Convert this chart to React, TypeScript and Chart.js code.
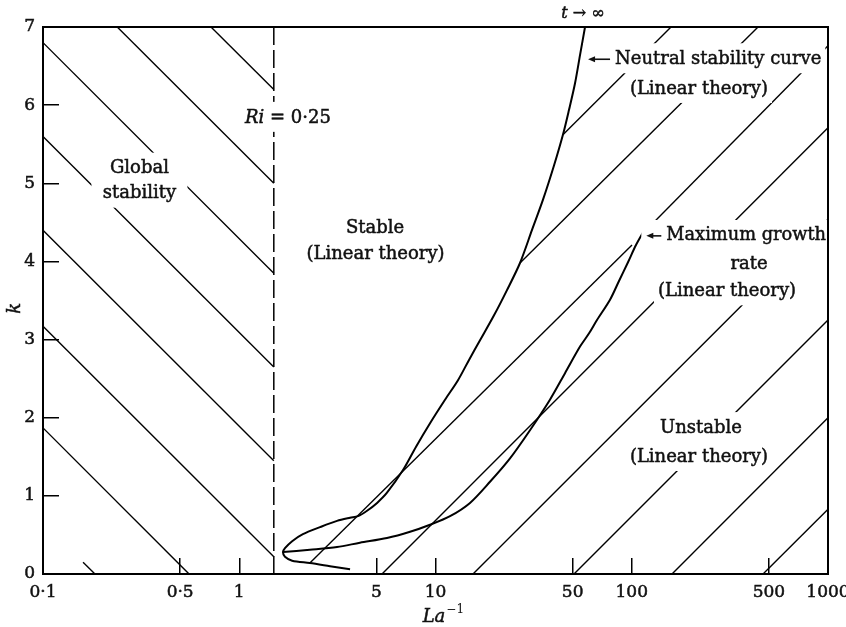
import React, { useEffect, useRef } from 'react';
import { Chart, registerables } from 'chart.js';

Chart.register(...registerables);

// ---- axis ticks ----
const X_TICKS = [0.1, 0.5, 1, 5, 10, 50, 100, 500, 1000];
const X_TICK_LABELS = ['0·1', '0·5', '1', '5', '10', '50', '100', '500', '1000'];
const Y_TICKS = [0, 1, 2, 3, 4, 5, 6, 7];
const Y_TICK_LABELS = ['0', '1', '2', '3', '4', '5', '6', '7'];

// ---- Ri = 0.25 boundary (value of La^-1) ----
const RI_LA = 1.5;

// ---- neutral stability curve (linear theory) ----
const NEUTRAL_LA = [57.8, 54.5, 51.4, 47.9, 44.6, 40.2, 35.3, 31.0, 26.95, 23.1, 19.87, 16.86, 14.82, 13.02, 11.18, 9.38, 7.96, 6.83, 5.66, 5.04, 4.48, 4.03, 3.67, 3.15, 2.58, 2.11, 1.86, 1.71, 1.67, 1.71, 1.86, 2.29, 2.9, 3.67];
const NEUTRAL_K = [7.0, 6.64, 6.28, 5.94, 5.62, 5.23, 4.79, 4.4, 3.98, 3.63, 3.31, 2.99, 2.74, 2.48, 2.23, 1.93, 1.63, 1.33, 1.04, 0.91, 0.81, 0.74, 0.72, 0.68, 0.6, 0.51, 0.42, 0.33, 0.28, 0.22, 0.17, 0.14, 0.1, 0.06];

// ---- maximum growth rate curve (linear theory) ----
const MAXGROWTH_LA = [116.8, 105.1, 95.7, 86.1, 77.5, 66.5, 60.6, 54.5, 45.7, 38.3, 30.3, 23.97, 18.95, 14.99, 11.86, 9.38, 7.42, 5.66, 4.12, 3.15, 2.29, 1.67];
const MAXGROWTH_K = [4.415, 4.21, 3.99, 3.75, 3.51, 3.25, 3.08, 2.91, 2.57, 2.23, 1.84, 1.48, 1.18, 0.91, 0.74, 0.63, 0.54, 0.46, 0.4, 0.345, 0.31, 0.28];

// ---- hatching segments [La1, k1, La2, k2] ----
const HATCH_LEFT = [
  [0.718, 7, 1.5, 6.2],
  [0.239, 7, 1.5, 5.0],
  [0.1, 6.8, 1.5, 3.85],
  [0.1, 5.6, 1.5, 2.65],
  [0.1, 4.4, 1.5, 1.45],
  [0.1, 3.17, 1.5, 0.22],
  [0.1, 1.87, 0.555, 0],
  [0.16, 0.15, 0.184, 0],
];
const HATCH_RIGHT = [
  [44.6, 5.62, 158.5, 7],
  [26.95, 3.98, 440, 7],
  [2.29, 0.14, 100.3, 4.21],
  [118.2, 4.4, 1000, 6.76],
  [5.34, 0, 1000, 5.71],
  [15.53, 0, 1000, 4.54],
  [50.8, 0, 1000, 3.25],
  [160.4, 0, 1000, 2.0],
  [466.6, 0, 1000, 0.83],
];

// ---- text annotations ----
type Part = { t: string; it?: boolean };
type Note = {
  parts: Part[];
  la: number;
  k: number;
  align: 'left' | 'center';
  boxW?: number;
  box?: boolean;
  size?: number;
  arrow?: number;
};

const FAMILY = '"DejaVu Serif", "Liberation Serif", serif';

const NOTES: Note[] = [
  { parts: [{ t: 'Global' }], la: 0.31, k: 5.2, align: 'center', boxW: 96 },
  { parts: [{ t: 'stability' }], la: 0.31, k: 4.88, align: 'center', boxW: 96 },
  { parts: [{ t: 'Ri', it: true }, { t: ' = 0·25' }], la: 1.07, k: 5.85, align: 'left' },
  { parts: [{ t: 'Stable' }], la: 4.92, k: 4.43, align: 'center' },
  { parts: [{ t: '(Linear theory)' }], la: 4.95, k: 4.11, align: 'center' },
  { parts: [{ t: 't', it: true }, { t: ' → ∞' }], la: 56.4, k: 7.18, align: 'center', box: false, size: 16 },
  { parts: [{ t: 'Neutral stability curve' }], la: 82.2, k: 6.6, align: 'left', arrow: 22 },
  { parts: [{ t: '(Linear theory)' }], la: 220, k: 6.22, align: 'center' },
  { parts: [{ t: 'Maximum growth' }], la: 150, k: 4.34, align: 'left', arrow: 15, size: 17.8 },
  { parts: [{ t: 'rate' }], la: 395.8, k: 3.98, align: 'center', boxW: 150 },
  { parts: [{ t: '(Linear theory)' }], la: 305.8, k: 3.63, align: 'center' },
  { parts: [{ t: 'Unstable' }], la: 225.4, k: 1.88, align: 'center' },
  { parts: [{ t: '(Linear theory)' }], la: 220, k: 1.51, align: 'center' },
];

const INK = '#111';

const notesPlugin = {
  id: 'notes',
  afterDatasetsDraw(chart: any) {
    const ctx = chart.ctx as CanvasRenderingContext2D;
    const xs = chart.scales.x;
    const ys = chart.scales.y;
    ctx.save();
    ctx.textBaseline = 'middle';
    ctx.textAlign = 'left';
    ctx.lineWidth = 0.5;
    ctx.strokeStyle = INK;
    for (const n of NOTES) {
      const size = n.size ?? 18;
      const fontOf = (p: Part) => `${p.it ? 'italic ' : ''}${size}px ${FAMILY}`;
      let w = 0;
      const widths = n.parts.map((p) => {
        ctx.font = fontOf(p);
        const m = ctx.measureText(p.t).width;
        w += m;
        return m;
      });
      const px = xs.getPixelForValue(n.la);
      const py = ys.getPixelForValue(n.k);
      const x0 = n.align === 'left' ? px : px - w / 2;
      if (n.box !== false) {
        const extra = n.arrow ? n.arrow + 6 : 0;
        const bw = Math.max(w + 8, n.boxW ?? 0);
        const cx = x0 + w / 2;
        ctx.fillStyle = '#fff';
        ctx.fillRect(cx - bw / 2 - extra, py - size / 2 - 6, bw + extra, size + 12);
      }
      ctx.fillStyle = INK;
      if (n.arrow) {
        const ax1 = x0 - 5;
        const ax0 = ax1 - n.arrow;
        ctx.save();
        ctx.lineWidth = 1.6;
        ctx.beginPath();
        ctx.moveTo(ax0 + 5, py + 1);
        ctx.lineTo(ax1, py + 1);
        ctx.stroke();
        ctx.beginPath();
        ctx.moveTo(ax0, py + 1);
        ctx.lineTo(ax0 + 7, py - 2);
        ctx.lineTo(ax0 + 7, py + 4);
        ctx.closePath();
        ctx.fill();
        ctx.restore();
      }
      let x = x0;
      n.parts.forEach((p, i) => {
        ctx.font = fontOf(p);
        ctx.fillText(p.t, x, py + 1);
        ctx.strokeText(p.t, x, py + 1);
        x += widths[i];
      });
    }
    // axis titles
    const area = chart.chartArea;
    ctx.save();
    ctx.translate(area.left - 28, ys.getPixelForValue(3.4));
    ctx.rotate(-Math.PI / 2);
    ctx.font = `italic 18px ${FAMILY}`;
    ctx.textAlign = 'center';
    ctx.fillText('k', 0, 0);
    ctx.strokeText('k', 0, 0);
    ctx.restore();
    ctx.font = `italic 18px ${FAMILY}`;
    const laW = ctx.measureText('La').width;
    ctx.font = `12px ${FAMILY}`;
    const supW = ctx.measureText('−1').width;
    const cx = xs.getPixelForValue(10.9);
    const ty = area.bottom + 43;
    const sx = cx - (laW + supW) / 2;
    ctx.textAlign = 'left';
    ctx.font = `italic 18px ${FAMILY}`;
    ctx.fillText('La', sx, ty);
    ctx.strokeText('La', sx, ty);
    ctx.font = `12px ${FAMILY}`;
    ctx.fillText('−1', sx + laW + 1, ty - 7);
    ctx.restore();
  },
};

const framePlugin = {
  id: 'frame',
  afterDraw(chart: any) {
    const { ctx, chartArea: a } = chart;
    ctx.save();
    ctx.strokeStyle = '#000';
    ctx.lineWidth = 2;
    ctx.strokeRect(a.left, a.top, a.right - a.left, a.bottom - a.top);
    ctx.restore();
  },
};

export default function App() {
  const ref = useRef<HTMLCanvasElement | null>(null);

  useEffect(() => {
    const canvas = ref.current;
    if (!canvas) return;

    const mk = (pts: { x: number; y: number }[], width: number, extra: any = {}) => ({
      data: pts,
      borderColor: '#000',
      borderWidth: width,
      pointRadius: 0,
      pointHoverRadius: 0,
      fill: false,
      tension: 0,
      ...extra,
    });

    const datasets: any[] = [];
    HATCH_LEFT.forEach((s) => datasets.push(mk([{ x: s[0], y: s[1] }, { x: s[2], y: s[3] }], 1.4)));
    HATCH_RIGHT.forEach((s) => datasets.push(mk([{ x: s[0], y: s[1] }, { x: s[2], y: s[3] }], 1.4)));
    datasets.push(mk([{ x: RI_LA, y: 0 }, { x: RI_LA, y: 7 }], 1.5, { borderDash: [18, 5] }));
    datasets.push(mk(NEUTRAL_LA.map((x, i) => ({ x, y: NEUTRAL_K[i] })), 2, { tension: 0.3 }));
    datasets.push(mk(MAXGROWTH_LA.map((x, i) => ({ x, y: MAXGROWTH_K[i] })), 2, { tension: 0.3 }));

    const tickFont = { family: FAMILY, size: 17 };

    const chart = new Chart(canvas, {
      type: 'line',
      data: { datasets },
      options: {
        animation: false,
        responsive: false,
        devicePixelRatio: 1,
        events: [],
        layout: { padding: { top: 27, right: 18, left: 0, bottom: 0 } },
        plugins: { legend: { display: false }, tooltip: { enabled: false }, title: { display: false } },
        elements: { point: { radius: 0 } },
        scales: {
          x: {
            type: 'logarithmic',
            min: 0.1,
            max: 1000,
            position: 'bottom',
            afterBuildTicks: (s: any) => {
              s.ticks = X_TICKS.map((v) => ({ value: v }));
            },
            afterFit: (s: any) => {
              s.height = 53;
              s.paddingLeft = 0;
              s.paddingRight = 0;
            },
            ticks: {
              autoSkip: false,
              maxRotation: 0,
              minRotation: 0,
              padding: 24,
              color: INK,
              textStrokeColor: INK,
              textStrokeWidth: 0.5,
              font: tickFont,
              callback: (_v: any, i: number) => X_TICK_LABELS[i] ?? '',
            },
            grid: { drawOnChartArea: false, drawTicks: true, tickLength: -16, color: '#000', lineWidth: 1.5 },
            border: { display: true, color: '#000', width: 2 },
          },
          y: {
            type: 'linear',
            min: 0,
            max: 7,
            afterBuildTicks: (s: any) => {
              s.ticks = Y_TICKS.map((v) => ({ value: v }));
            },
            afterFit: (s: any) => {
              s.width = 43;
              s.paddingTop = 0;
              s.paddingBottom = 0;
            },
            ticks: {
              padding: 24,
              color: INK,
              textStrokeColor: INK,
              textStrokeWidth: 0.5,
              font: tickFont,
              callback: (_v: any, i: number) => Y_TICK_LABELS[i] ?? '',
            },
            grid: { drawOnChartArea: false, drawTicks: true, tickLength: -16, color: '#000', lineWidth: 1.5 },
            border: { display: true, color: '#000', width: 2 },
          },
        },
      } as any,
      plugins: [notesPlugin, framePlugin],
    });

    return () => chart.destroy();
  }, []);

  return (
    <div style={{ position: 'absolute', left: 0, top: 0, width: 846, height: 627, background: '#fff' }}>
      <canvas ref={ref} width={846} height={627} style={{ display: 'block', width: 846, height: 627 }} />
    </div>
  );
}
